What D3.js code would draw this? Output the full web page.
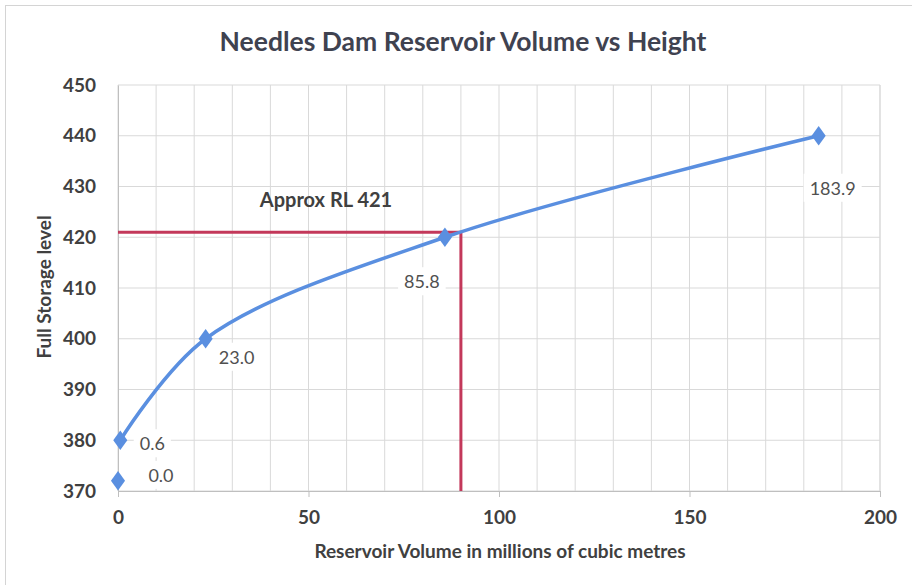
<!DOCTYPE html>
<html><head><meta charset="utf-8">
<script src="https://cdn.jsdelivr.net/npm/d3@7"></script>
<style>
html,body{margin:0;padding:0;background:#fff;}
svg{display:block;font-family:Lato,"Open Sans",sans-serif;}
</style></head>
<body><svg id="c" width="912" height="585"></svg>
<script>
const volumes = [0.0, 0.6, 23.0, 85.8, 183.9];
const levels = [372, 380, 400, 420, 440];
const curveVolumes = [0.6, 23.0, 85.8, 183.9];
const curveLevels = [380, 400, 420, 440];
const labels = ["0.0", "0.6", "23.0", "85.8", "183.9"];
const xTicks = [0, 50, 100, 150, 200];
const yTicks = [370, 380, 390, 400, 410, 420, 430, 440, 450];
const refVolume = 90;
const refLevel = 421;
const refText = "Approx RL 421";

const svg = d3.select("#c");
const W = 912, H = 585;
const L = 118, R = 880, T = 85, B = 491;
const x = d3.scaleLinear().domain([0, 200]).range([L, R]);
const y = d3.scaleLinear().domain([370, 450]).range([B, T]);

svg.append("rect").attr("x", 5.5).attr("y", 5.5).attr("width", W + 10).attr("height", H - 3)
  .attr("fill", "#fff").attr("stroke", "#d4d4d4");

// gridlines
const g = svg.append("g");
g.selectAll(".vg").data(d3.range(0, 201, 10)).join("line")
  .attr("x1", d => x(d)).attr("x2", d => x(d)).attr("y1", T).attr("y2", B)
  .attr("stroke", "#d9d9d9").attr("stroke-width", 1);
g.selectAll(".hg").data(yTicks).join("line")
  .attr("x1", L).attr("x2", R).attr("y1", d => y(d)).attr("y2", d => y(d))
  .attr("stroke", "#d9d9d9").attr("stroke-width", 1);

// axes
const xAxis = svg.append("g").attr("transform", `translate(0,${B})`)
  .call(d3.axisBottom(x).tickValues(xTicks).tickSize(6).tickPadding(14));
const yAxis = svg.append("g").attr("transform", `translate(${L},0)`)
  .call(d3.axisLeft(y).tickValues(yTicks).tickSize(0).tickPadding(22));
[xAxis, yAxis].forEach(a => {
  a.select(".domain").attr("stroke", "#bfbfbf");
  a.selectAll(".tick line").attr("stroke", "#bfbfbf");
  a.selectAll(".tick text").attr("fill", "#404040").style("font-size", "19px")
    .style("font-weight", "bold").style("font-family", "Lato, sans-serif");
});
svg.append("line").attr("x1", R).attr("x2", R).attr("y1", T).attr("y2", B).attr("stroke", "#d9d9d9");

// reference lines
const red = "#c3385a";
svg.append("line").attr("x1", x(0)).attr("x2", x(refVolume)).attr("y1", y(refLevel)).attr("y2", y(refLevel))
  .attr("stroke", red).attr("stroke-width", 3);
svg.append("line").attr("x1", x(refVolume)).attr("x2", x(refVolume)).attr("y1", y(refLevel)).attr("y2", y(370))
  .attr("stroke", red).attr("stroke-width", 3);

// curve
const pts = curveVolumes.map((v, i) => [v, curveLevels[i]]);
const line = d3.line().x(d => x(d[0])).y(d => y(d[1])).curve(d3.curveCatmullRom.alpha(0.5));
svg.append("path").attr("d", line(pts)).attr("fill", "none").attr("stroke", "#5a8fe0").attr("stroke-width", 3.5);

// markers
const diamond = d3.symbol().type(d3.symbolDiamond).size(110);
svg.selectAll(".m").data(volumes).join("path")
  .attr("d", diamond)
  .attr("transform", (d, i) => `translate(${x(d)},${y(levels[i])}) scale(1.25,1)`)
  .attr("fill", "#5a8fe0");

// data labels
const lblOff = [[43, -6], [32, 3], [31, 18], [-23, 44], [14, 52]];
volumes.forEach((v, i) => {
  const gx = x(v) + lblOff[i][0], gy = y(levels[i]) + lblOff[i][1];
  const lg = svg.append("g");
  const t = lg.append("text").attr("x", gx).attr("y", gy).attr("text-anchor", "middle")
    .attr("dominant-baseline", "central").attr("fill", "#505050")
    .style("font-size", "18px").style("font-family", "Lato, sans-serif").text(labels[i]);
  const bb = t.node().getBBox();
  lg.insert("rect", "text").attr("x", bb.x - 6).attr("y", bb.y - 3).attr("width", bb.width + 12)
    .attr("height", bb.height + 6).attr("fill", "#fff");
});

// annotation
svg.append("text").attr("x", 326).attr("y", 207).attr("text-anchor", "middle")
  .attr("fill", "#404040").style("font-size", "20px").style("font-weight", "bold").text(refText);

// titles
svg.append("text").attr("x", 463).attr("y", 51).attr("text-anchor", "middle")
  .attr("fill", "#3f4250").style("font-size", "26.5px").style("font-weight", "bold")
  .text("Needles Dam Reservoir Volume vs Height");
svg.append("text").attr("x", 500).attr("y", 558).attr("text-anchor", "middle")
  .attr("fill", "#404040").style("font-size", "19px").style("font-weight", "bold")
  .text("Reservoir Volume in millions of cubic metres");
svg.append("text").attr("transform", "translate(51,287) rotate(-90)").attr("text-anchor", "middle")
  .attr("fill", "#404040").style("font-size", "19px").style("font-weight", "bold")
  .text("Full Storage level");
</script></body></html>
